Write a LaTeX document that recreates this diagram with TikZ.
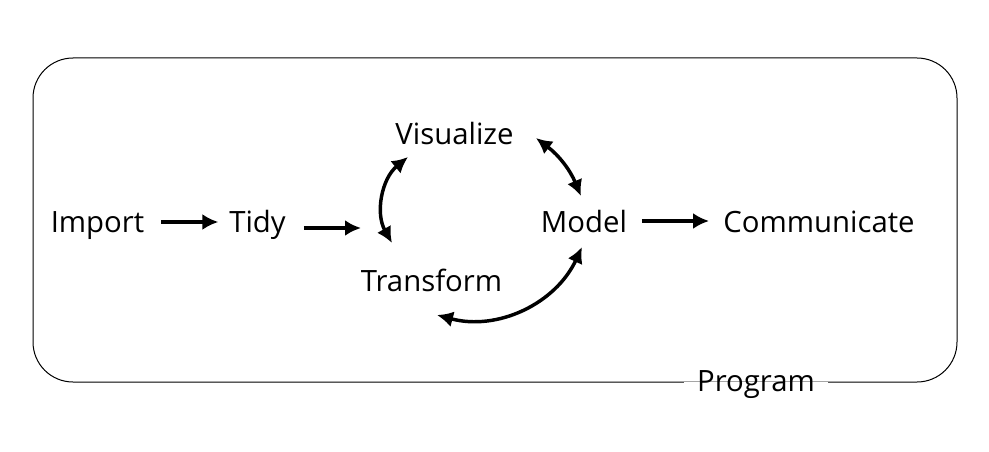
\documentclass[tikz,border=0pt]{standalone}
\usepackage{fontspec}
\setmainfont{Open Sans}
\usetikzlibrary{arrows.meta,calc}

\begin{document}
\begin{tikzpicture}[x=0.75pt,y=0.75pt]
  \tikzset{StepText/.style  = {inner sep=0pt, text height=0.75em, text depth=0.25em,
                               font=\fontsize{22}{26}\selectfont},
           FlowEdge/.style  = {line width=2.6pt, -{Latex[length=12pt,width=12pt]}},
           CycleEdge/.style = {line width=2.6pt,
                               {Latex[length=12pt,width=12pt]}-{Latex[length=12pt,width=12pt]}}}

  \useasboundingbox (0,0) rectangle (989,451);

% frame
\draw[line width=0.75pt, rounded corners=30pt] (33,69) rectangle (957,393);
\node[StepText, fill=white, inner xsep=10pt] (program) at (756,62.5) {Program};

% main row
\node[StepText] (import)      at (97.5,222) {Import};
\node[StepText] (tidy)        at (257.5,222) {Tidy};
\node[StepText] (model)       at (584,222) {Model};
\node[StepText] (communicate) at (819,222) {Communicate};

% cycle
\node[StepText] (visualize) at (454.5,310) {Visualize};
\node[StepText] (transform) at (431.5,163) {Transform};
\coordinate (tidyin) at (361,223);

\draw[FlowEdge, shorten <=12.5pt, shorten >=8pt]
  ($(import.east)+(0,7)$) -- ($(import.east -| tidy.west)+(0,7)$);
\draw[FlowEdge, shorten <=13.5pt] (tidy.east |- tidyin) -- (tidyin);
\draw[FlowEdge, shorten <=11pt, shorten >=10.5pt]
  ($(model.east)+(0,8)$) -- ($(model.east -| communicate.west)+(0,8)$);

\draw[CycleEdge] ($(visualize)+(-46.5,-16)$) to[bend right=40] ($(transform)+(-39.5,45)$);
\draw[CycleEdge] ($(visualize)+(81.5,3)$) to[bend left=15] ($(model)+(-3,33)$);
\draw[CycleEdge] ($(transform)+(5.5,-27)$) to[out=-15, in=-115] ($(model)+(-2,-18)$);

\end{tikzpicture}
\end{document}
